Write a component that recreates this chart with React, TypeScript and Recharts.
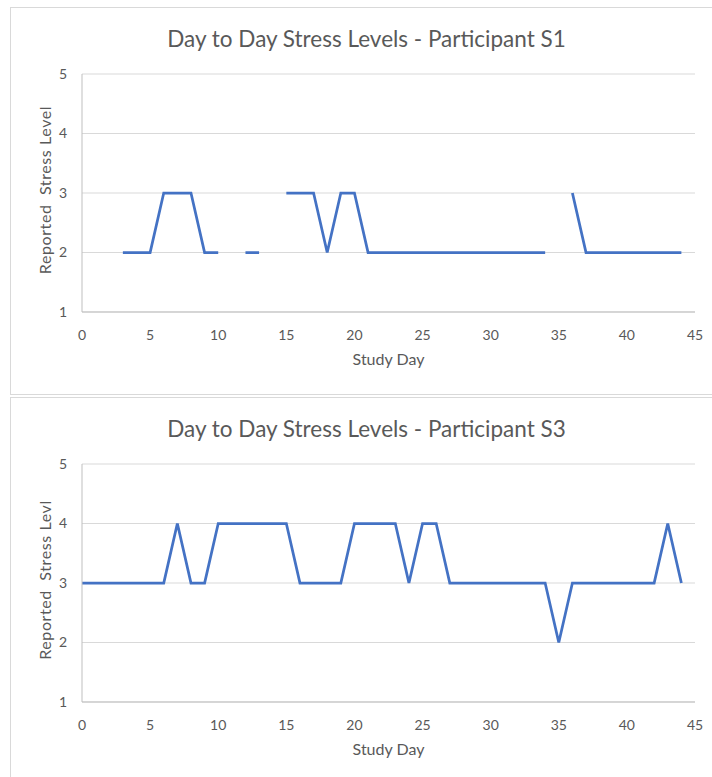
import React from "react";
import { LineChart, Line, XAxis, YAxis, CartesianGrid } from "recharts";

// study days 0..44
const days = Array.from({ length: 45 }, (_, i) => i);

// participant S1 (null = no report that day)
const stressS1: (number | null)[] = [
  null, null, null, 2, 2, 2, 3, 3, 3, 2,
  2, null, 2, 2, null, 3, 3, 3, 2, 3,
  3, 2, 2, 2, 2, 2, 2, 2, 2, 2,
  2, 2, 2, 2, 2, null, 3, 2, 2, 2,
  2, 2, 2, 2, 2,
];

// participant S3
const stressS3: (number | null)[] = [
  3, 3, 3, 3, 3, 3, 3, 4, 3, 3,
  4, 4, 4, 4, 4, 4, 3, 3, 3, 3,
  4, 4, 4, 4, 3, 4, 4, 3, 3, 3,
  3, 3, 3, 3, 3, 2, 3, 3, 3, 3,
  3, 3, 3, 4, 3,
];

const xTicks = [0, 5, 10, 15, 20, 25, 30, 35, 40, 45];
const yTicks = [1, 2, 3, 4, 5];

const FONT = "Lato, 'Open Sans', sans-serif";
const TEXT = "#595959";

const StressPanel = ({
  title,
  yTitle,
  values,
  top,
}: {
  title: string;
  yTitle: string;
  values: (number | null)[];
  top: number;
}) => {
  const rows = days.map((d, i) => ({ day: d, level: values[i] }));
  return (
    <div
      style={{
        position: "absolute",
        left: 10,
        top,
        width: 712,
        height: 386,
        border: "1px solid #d9d9d9",
        background: "#fff",
        fontFamily: FONT,
      }}
    >
      <div
        style={{
          position: "absolute",
          left: 0,
          width: 711,
          top: 17,
          textAlign: "center",
          fontSize: 22.5,
          color: TEXT,
        }}
      >
        {title}
      </div>
      <div
        style={{
          position: "absolute",
          left: 34 - 100,
          top: 182 - 10,
          width: 200,
          height: 20,
          lineHeight: "20px",
          textAlign: "center",
          fontSize: 16,
          letterSpacing: 0.6,
          whiteSpace: "pre",
          color: TEXT,
          transform: "rotate(-90deg)",
        }}
      >
        {yTitle}
      </div>
      <div
        style={{
          position: "absolute",
          left: 71,
          width: 613,
          top: 341,
          textAlign: "center",
          fontSize: 16,
          color: TEXT,
        }}
      >
        Study Day
      </div>
      <LineChart
        width={700}
        height={384}
        data={rows}
        margin={{ top: 66, right: 16, bottom: 50, left: 31 }}
        style={{ position: "absolute", left: 0, top: 0 }}
      >
        <CartesianGrid vertical={false} stroke="#d9d9d9" strokeWidth={1} />
        <XAxis
          type="number"
          dataKey="day"
          domain={[0, 45]}
          ticks={xTicks}
          interval={0}
          height={30}
          tickLine={false}
          tickSize={6}
          tickMargin={12}
          axisLine={{ stroke: "#bfbfbf" }}
          tick={{ fill: TEXT, fontSize: 14, fontFamily: FONT }}
        />
        <YAxis
          type="number"
          domain={[1, 5]}
          ticks={yTicks}
          interval={0}
          width={40}
          tickLine={false}
          tickSize={6}
          tickMargin={9}
          axisLine={{ stroke: "#bfbfbf" }}
          tick={{ fill: TEXT, fontSize: 14, fontFamily: FONT }}
        />
        <Line
          type="linear"
          dataKey="level"
          stroke="#4472c4"
          strokeWidth={2.75}
          dot={false}
          activeDot={false}
          connectNulls={false}
          isAnimationActive={false}
        />
      </LineChart>
    </div>
  );
};

const App: React.FC = () => (
  <div
    style={{
      position: "absolute",
      left: 0,
      top: 0,
      width: 712,
      height: 777,
      overflow: "hidden",
      background: "#fff",
    }}
  >
    <StressPanel
      title="Day to Day Stress Levels - Participant S1"
      yTitle="Reported  Stress Level"
      values={stressS1}
      top={7}
    />
    <StressPanel
      title="Day to Day Stress Levels - Participant S3"
      yTitle="Reported  Stress Levl"
      values={stressS3}
      top={397}
    />
  </div>
);

export default App;
